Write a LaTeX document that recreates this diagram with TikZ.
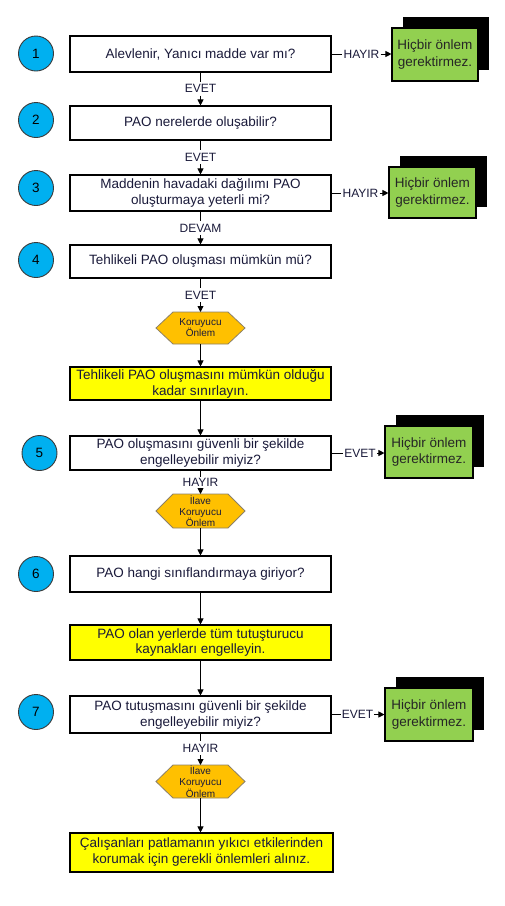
\documentclass[tikz,border=0pt]{standalone}
\usepackage{fontspec}
\setmainfont{Liberation Sans}
\usetikzlibrary{arrows.meta,shadows,backgrounds}
\definecolor{cblue}{HTML}{00B0F0}
\definecolor{cgreen}{HTML}{92D050}
\definecolor{cyellow}{HTML}{FFFF00}
\definecolor{corange}{HTML}{FFC000}
\definecolor{ctext}{HTML}{1A1A3A}
\definecolor{chexb}{HTML}{8C8066}
\definecolor{ccirc}{HTML}{3A3A3A}
\tikzset{
 box/.style={draw=black, line width=1.1pt, fill=white, minimum width=261pt, align=center,
   font=\fontsize{13.5}{16}\selectfont, text=ctext, inner sep=2pt},
 ybox/.style={box, fill=cyellow},
 num/.style={circle, draw=ccirc, fill=cblue, minimum size=35pt, inner sep=0pt,
   font=\fontsize{13.5}{16}\selectfont, line width=0.9pt},
 gbox/.style={draw=black, line width=1.1pt, fill=cgreen, align=center,
   font=\fontsize{13.5}{16.7}\selectfont, text=black!85, inner sep=1pt,
   drop shadow={shadow xshift=10.5pt, shadow yshift=11pt, fill=black, opacity=1}},
 hexn/.style={minimum width=89pt, align=center, font=\fontsize{10}{11.2}\selectfont,
   text=ctext, inner sep=0pt, outer sep=0pt},
 hexdraw/.style={draw=chexb, line width=0.8pt, fill=corange},
 lab/.style={font=\fontsize{12}{14}\selectfont, text=ctext, text height=8.6pt, text depth=0pt,
   inner xsep=1pt, inner ysep=2.5pt},
 conn/.style={line width=0.9pt, draw=black},
 arr/.style={conn, -{Triangle[length=6pt,width=6pt]}},
}
\newcommand\drawhex[1]{\path[hexdraw] (#1.west) -- ([xshift=17pt]#1.north west) -- ([xshift=-17pt]#1.north east) -- (#1.east) -- ([xshift=-17pt]#1.south east) -- ([xshift=17pt]#1.south west) -- cycle;}
\begin{document}
\begin{tikzpicture}[x=1pt,y=-1pt]
\begin{scope}[on background layer]
\fill[white] (0,0) rectangle (505,906);
\end{scope}
\useasboundingbox (0,0) rectangle (505,906);
% circles
\node[num] (c1) at (36,53.5) {1};
\node[num] (c2) at (36,120) {2};
\node[num] (c3) at (36,188) {3};
\node[num] (c4) at (36,260) {4};
\node[num] (c5) at (39.5,453) {5};
\node[num] (c6) at (36,574) {6};
\node[num] (c7) at (36,712) {7};
% main boxes
\node[box, minimum height=36pt] (b1) at (200.5,54) {Alevlenir, Yanıcı madde var mı?};
\node[box, minimum height=34pt] (b2) at (200.5,123) {PAO nerelerde oluşabilir?};
\node[box, minimum height=36pt] (b3) at (200.5,193) {Maddenin havadaki dağılımı PAO\\oluşturmaya yeterli mi?};
\node[box, minimum height=33pt] (b4) at (200.5,261.5) {Tehlikeli PAO oluşması mümkün mü?};
\node[hexn, minimum height=32pt] (h1) at (200.5,328) {Koruyucu\\Önlem};
\node[ybox, minimum height=33pt] (y1) at (200.5,383.5) {Tehlikeli PAO oluşmasını mümkün olduğu\\kadar sınırlayın.};
\node[box, minimum height=34pt] (b5) at (200.5,453) {PAO oluşmasını güvenli bir şekilde\\engelleyebilir miyiz?};
\node[hexn, minimum height=34pt] (h2) at (200.5,511) {İlave\\Koruyucu\\Önlem};
\node[box, minimum height=36pt] (b6) at (200.5,574) {PAO hangi sınıflandırmaya giriyor?};
\node[ybox, minimum height=35pt] (y2) at (200.5,642.5) {PAO olan yerlerde tüm tutuşturucu\\kaynakları engelleyin.};
\node[box, minimum height=37pt] (b7) at (200.5,714.5) {PAO tutuşmasını güvenli bir şekilde\\engelleyebilir miyiz?};
\node[hexn, minimum height=33pt] (h3) at (200.5,781.5) {İlave\\Koruyucu\\Önlem};
\node[ybox, minimum height=39pt, minimum width=263pt] (y3) at (201.5,852.5) {Çalışanları patlamanın yıkıcı etkilerinden\\korumak için gerekli önlemleri alınız.};
\begin{scope}[on background layer]
\drawhex{h1}
\drawhex{h2}
\drawhex{h3}
\end{scope}
% green boxes
\node[gbox, minimum width=86pt, minimum height=53pt] (g1) at (435,54.5) {Hiçbir önlem\\gerektirmez.};
\node[gbox, minimum width=87pt, minimum height=51pt] (g3) at (432.5,192.5) {Hiçbir önlem\\gerektirmez.};
\node[gbox, minimum width=88pt, minimum height=52pt] (g5) at (429,452) {Hiçbir önlem\\gerektirmez.};
\node[gbox, minimum width=88pt, minimum height=53pt] (g7) at (429,714.5) {Hiçbir önlem\\gerektirmez.};
% labels
\node[lab] (l1) at (200.5,88.5) {EVET};
\node[lab] (l1r) at (361.5,54) {HAYIR};
\node[lab] (l2) at (200.5,157) {EVET};
\node[lab] (l3r) at (360.5,193) {HAYIR};
\node[lab] (l3) at (200.5,228) {DEVAM};
\node[lab] (l4) at (200.5,295) {EVET};
\node[lab] (l5r) at (360,453) {EVET};
\node[lab, inner ysep=1pt] (l5) at (200.5,482) {HAYIR};
\node[lab] (l7r) at (357.5,714.5) {EVET};
\node[lab] (l7) at (200.5,748) {HAYIR};
% connectors
\draw[conn] (b1.south) -- (l1.north);
\draw[arr] (l1.south) -- (b2.north);
\draw[conn] (b1.east) -- (l1r.west);
\draw[arr] (l1r.east) -- (l1r.east -| g1.west);
\draw[conn] (b2.south) -- (l2.north);
\draw[arr] (l2.south) -- (b3.north);
\draw[conn] (b3.east) -- (l3r.west);
\draw[arr] (l3r.east) -- (l3r.east -| g3.west);
\draw[conn] (b3.south) -- (l3.north);
\draw[arr] (l3.south) -- (b4.north);
\draw[conn] (b4.south) -- (l4.north);
\draw[arr] (l4.south) -- (h1.north);
\draw[arr] (h1.south) -- (y1.north);
\draw[arr] (y1.south) -- (b5.north);
\draw[conn] (b5.east) -- (l5r.west);
\draw[arr] (l5r.east) -- (l5r.east -| g5.west);
\draw[conn] (b5.south) -- (l5.north);
\draw[arr] (l5.south) -- (h2.north);
\draw[arr] (h2.south) -- (b6.north);
\draw[arr] (b6.south) -- (y2.north);
\draw[arr] (y2.south) -- (b7.north);
\draw[conn] (b7.east) -- (l7r.west);
\draw[arr] (l7r.east) -- (l7r.east -| g7.west);
\draw[conn] (b7.south) -- (l7.north);
\draw[arr] (l7.south) -- (h3.north);
\draw[arr] (h3.south) -- (h3.south |- y3.north);
\end{tikzpicture}
\end{document}
